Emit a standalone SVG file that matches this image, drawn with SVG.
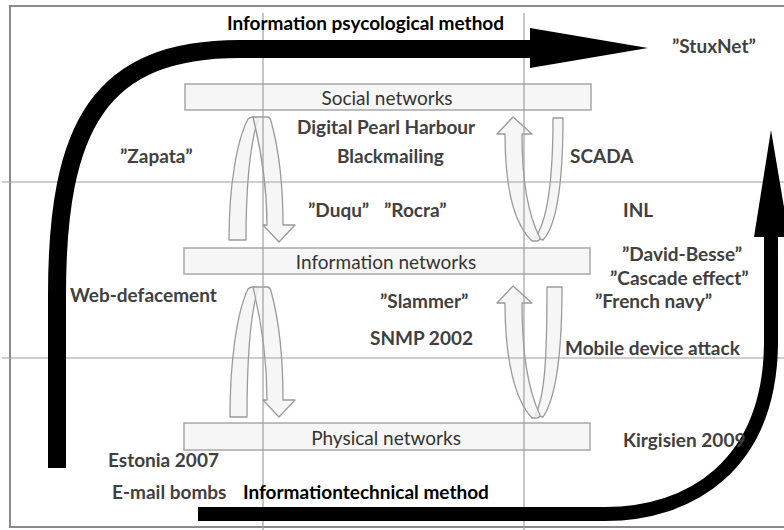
<svg xmlns="http://www.w3.org/2000/svg" width="784" height="530" viewBox="0 0 784 530">
<defs>
<style>
.frame{fill:none;stroke:#8a8a8a;stroke-width:2}
.grid{stroke:#a0a0a0;stroke-width:1.2;fill:none}
.layer{fill:#f4f4f4;fill-opacity:0.85;stroke:#a8a8a8;stroke-width:1.5}
.layer-text{font-family:Lato,"Open Sans","Liberation Sans",sans-serif;font-size:19px;fill:#333;text-anchor:middle}
.loop{fill:#f5f5f5;fill-opacity:0.85;stroke:#9a9a9a;stroke-width:1.3;stroke-linejoin:round}
.band{fill:none;stroke:#000;stroke-linejoin:round}
.head{fill:#000}
.lbl{font-family:Lato,"Open Sans","Liberation Sans",sans-serif;font-size:19px;font-weight:bold;fill:#404040}
.method{font-family:Lato,"Open Sans","Liberation Sans",sans-serif;font-size:19px;font-weight:bold;fill:#000}
</style>
</defs>
<rect class="frame" x="10" y="6" width="790" height="521"/>

<g id="social-networks">
<rect class="layer" x="185" y="84" width="406" height="26"/>
<text class="layer-text" x="387" y="105">Social networks</text>
</g>
<g id="information-networks">
<rect class="layer" x="184" y="248" width="406" height="26"/>
<text class="layer-text" x="386" y="269">Information networks</text>
</g>
<g id="physical-networks">
<rect class="layer" x="184" y="423" width="406" height="27"/>
<text class="layer-text" x="386" y="445">Physical networks</text>
</g>

<g id="connectors">
<g id="loop-upper-left">
<path class="loop" d="M229,240 C229,185 237,140 248,119 Q250,117 253,117 L258,119 C250,145 246,185 246,240 Z"/>
<path class="loop" d="M253,117 L267,117 Q270,117 271,121 C279,150 283,185 283,225 L295,225 L279,242 L263,225 L267,225 C267,185 261,150 253,117 Z"/>
</g>
<g id="loop-lower-left">
<path class="loop" d="M230,417 C230,360 237,312 248,289 Q250,287 253,287 L258,289 C250,315 247,360 247,417 Z"/>
<path class="loop" d="M253,287 L267,287 Q270,287 271,291 C279,320 283,360 283,400 L295,400 L279,417 L263,400 L267,400 C267,360 261,320 253,287 Z"/>
</g>
<g id="loop-upper-right">
<path class="loop" d="M553,118 L563,118 C563,185 557,225 543,240 L535,238 C547,222 553,185 553,118 Z"/>
<path class="loop" d="M505,134 L497,134 L513,117 L532,134 L522,134 C522,180 528,215 540,238 Q540,241 536,241 L532,241 C515,225 505,190 505,134 Z"/>
</g>
<g id="loop-lower-right">
<path class="loop" d="M547,287 L562,287 C562,355 556,398 543,417 L535,415 C545,398 547,355 547,287 Z"/>
<path class="loop" d="M505,303 L497,303 L513,286 L532,303 L522,303 C522,350 528,390 540,415 Q540,418 536,418 L532,418 C515,400 505,360 505,303 Z"/>
</g>
</g>

<g id="grid">
<line class="grid" x1="2" y1="182" x2="784" y2="182"/>
<line class="grid" x1="2" y1="358" x2="784" y2="358"/>
<line class="grid" x1="263" y1="13" x2="263" y2="530"/>
<line class="grid" x1="524" y1="13" x2="524" y2="530"/>
</g>

<g id="method-arrows">
<g id="arrow-psychological">
<path class="band" stroke-width="18" d="M57,468 L57,295 C57,125 100,49 240,49 L532,49"/>
<polygon class="head" points="530,28 648,48 530,68"/>
</g>
<g id="arrow-technical">
<path class="band" stroke-width="14" d="M198,514 L605,514 C690,514 769,466 771,345 L771,235"/>
<polygon class="head" points="754,237 771,130 789,237"/>
</g>
</g>

<g id="labels">
<text class="method" x="227" y="30">Information psycological method</text>
<text class="lbl" x="672" y="53">”StuxNet”</text>
<text class="lbl" x="297" y="134">Digital Pearl Harbour</text>
<text class="lbl" x="120" y="163">”Zapata”</text>
<text class="lbl" x="337" y="163">Blackmailing</text>
<text class="lbl" x="570" y="163">SCADA</text>
<text class="lbl" x="308" y="217">”Duqu”</text>
<text class="lbl" x="384" y="217">”Rocra”</text>
<text class="lbl" x="623" y="217">INL</text>
<text class="lbl" x="622" y="261">”David-Besse”</text>
<text class="lbl" x="610" y="285">”Cascade effect”</text>
<text class="lbl" x="70" y="302">Web-defacement</text>
<text class="lbl" x="380" y="308">”Slammer”</text>
<text class="lbl" x="595" y="308">”French navy”</text>
<text class="lbl" x="370" y="345">SNMP 2002</text>
<text class="lbl" x="565" y="355">Mobile device attack</text>
<text class="lbl" x="623" y="447">Kirgisien 2009</text>
<text class="lbl" x="108" y="467">Estonia 2007</text>
<text class="lbl" x="112" y="499">E-mail bombs</text>
<text class="method" x="243" y="499">Informationtechnical method</text>
</g>
</svg>
